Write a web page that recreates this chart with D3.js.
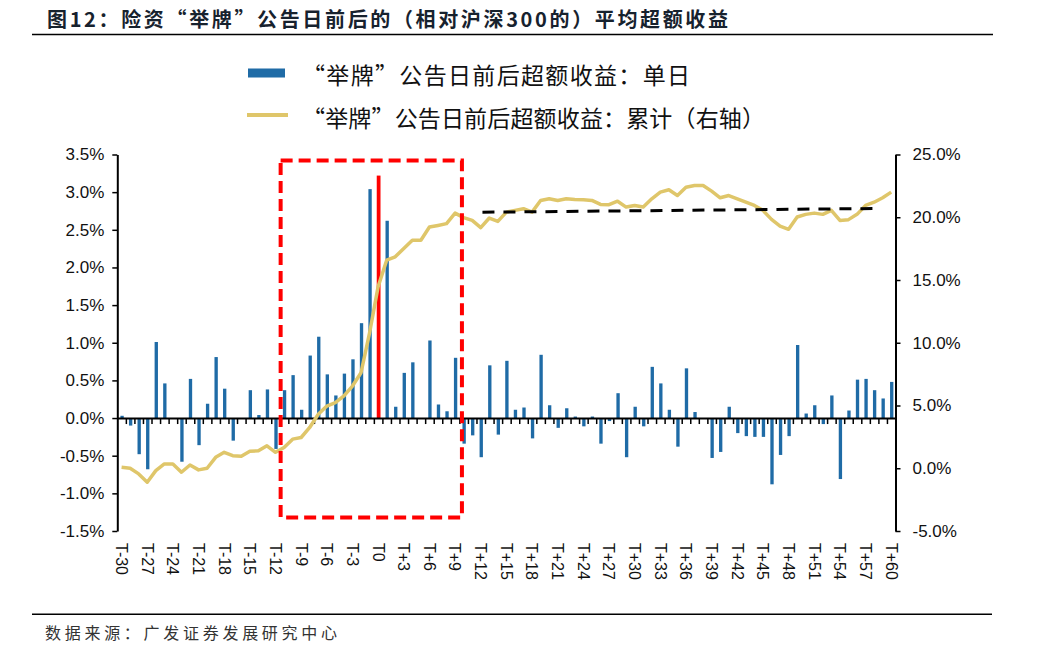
<!DOCTYPE html>
<html>
<head>
<meta charset="utf-8">
<script src="https://cdn.jsdelivr.net/npm/d3@7"></script>
<style>
  body { margin: 0; background: #fff; }
  text { font-family: "Liberation Sans", Arial, sans-serif; }
  .cjk { font-family: "Noto Sans CJK SC", sans-serif; }
</style>
</head>
<body>
<script>
// categories: T-30 ... T+60
var days = d3.range(-30, 61).map(function(d) {
  return d === 0 ? "T0" : (d < 0 ? "T" + d : "T+" + d);
});

// daily excess return (%), left axis
var daily = [
  0.03, -0.10, -0.48, -0.68, 1.01, 0.46, 0.00, -0.58, 0.52, -0.36,
  0.19, 0.81, 0.39, -0.30, 0.00, 0.37, 0.04, 0.38, -0.41, 0.37,
  0.57, 0.11, 0.83, 1.08, 0.58, 0.30, 0.59, 0.78, 1.26, 3.04,
  3.22, 2.62, 0.15, 0.60, 0.74, 0.00, 1.03, 0.18, 0.09, 0.80,
  -0.34, -0.23, -0.52, 0.70, -0.22, 0.76, 0.11, 0.14, -0.27, 0.84,
  0.17, -0.13, 0.13, 0.02, -0.11, 0.02, -0.34, -0.04, 0.33, -0.52,
  0.15, -0.11, 0.68, 0.46, 0.11, -0.38, 0.66, 0.08, 0.00, -0.53,
  -0.45, 0.15, -0.20, -0.24, -0.25, -0.25, -0.88, -0.49, -0.24, 0.97,
  0.06, 0.17, -0.08, 0.30, -0.81, 0.10, 0.51, 0.52, 0.37, 0.26,
  0.48
];

// cumulative excess return (%), right axis
var cumulative = [
  0.08, 0.00, -0.45, -1.11, -0.19, 0.34, 0.34, -0.32, 0.26, -0.13,
  0.00, 0.87, 1.27, 1.00, 0.95, 1.35, 1.39, 1.79, 1.27, 1.66,
  2.32, 2.45, 3.25, 4.30, 4.96, 5.23, 5.76, 6.55, 7.61, 10.78,
  14.47, 16.58, 16.85, 17.51, 18.17, 18.17, 19.22, 19.35, 19.49, 20.33,
  19.97, 19.75, 19.17, 19.94, 19.67, 20.41, 20.55, 20.68, 20.41, 21.34,
  21.47, 21.34, 21.47, 21.42, 21.39, 21.34, 21.02, 21.00, 21.28, 20.81,
  20.94, 20.81, 21.47, 22.00, 22.19, 21.73, 22.39, 22.53, 22.53, 22.08,
  21.55, 21.73, 21.47, 21.20, 20.94, 20.55, 19.83, 19.30, 19.04, 20.02,
  20.23, 20.33, 20.23, 20.55, 19.75, 19.81, 20.23, 20.94, 21.20, 21.55,
  22.00
];

var leftTicks = [3.5, 3.0, 2.5, 2.0, 1.5, 1.0, 0.5, 0.0, -0.5, -1.0, -1.5];
var rightTicks = [25, 20, 15, 10, 5, 0, -5];
var labelDays = days.filter(function(d, i) { return i % 3 === 0; });

var highlightDay = "T0";
var boxDays = ["T-11", "T+10"];
var boxValues = [3.42, -1.32];
var trendDays = ["T+12", "T+58"];
var trendValues = [20.4, 20.7];

var legendNames = ["“举牌”公告日前后超额收益：单日", "“举牌”公告日前后超额收益：累计（右轴）"];

var blue = "#1f6ba6", gold = "#dfc66a";

var svg = d3.select("body").append("svg")
    .attr("width", 1044)
    .attr("height", 647);

var x = d3.scaleBand().domain(days).range([117.3, 895.5]).padding(0);
var xi = d3.scaleLinear().domain([0, days.length]).range([117.3, 895.5]);
var yL = d3.scaleLinear().domain([-1.5, 3.5]).range([531, 154.5]);
var yR = d3.scaleLinear().domain([-5, 25]).range([531, 154.5]);
var bw = x.bandwidth();

// title
svg.append("text")
    .attr("class", "cjk")
    .attr("x", 47).attr("y", 18)
    .attr("dominant-baseline", "central")
    .attr("textLength", 681)
    .attr("lengthAdjust", "spacing")
    .style("font-size", "20px").style("font-weight", "bold")
    .style("fill", "#17222e")
    .text("图12：险资“举牌”公告日前后的（相对沪深300的）平均超额收益");

svg.append("line")
    .attr("x1", 32).attr("x2", 993).attr("y1", 34.5).attr("y2", 34.5)
    .style("stroke", "#000").style("stroke-width", 1.5);

// legend
svg.append("rect")
    .attr("x", 248).attr("y", 68.5).attr("width", 37).attr("height", 9)
    .style("fill", blue);
svg.append("line")
    .attr("x1", 247).attr("x2", 288).attr("y1", 115).attr("y2", 115)
    .style("stroke", gold).style("stroke-width", 4);
svg.selectAll(".legtext").data(legendNames).enter().append("text")
    .attr("class", "cjk legtext")
    .attr("x", 302)
    .attr("y", function(d, i) { return i === 0 ? 74 : 117; })
    .attr("dominant-baseline", "central")
    .attr("textLength", function(d, i) { return i === 0 ? 388 : 463; })
    .attr("lengthAdjust", "spacing")
    .style("font-size", "23px")
    .style("fill", "#111")
    .text(function(d) { return d; });

// bars
svg.append("g").selectAll("rect").data(daily).enter().append("rect")
    .attr("x", function(d, i) {
      var w = days[i] === highlightDay ? bw * 0.44 : bw * 0.39;
      return x(days[i]) + (bw - w) / 2 + 0.5;
    })
    .attr("width", function(d, i) { return days[i] === highlightDay ? bw * 0.44 : bw * 0.39; })
    .attr("y", function(d) { return yL(Math.max(0, d)); })
    .attr("height", function(d) { return Math.abs(yL(d) - yL(0)); })
    .style("fill", function(d, i) { return days[i] === highlightDay ? "#ff0000" : blue; });

// category axis on zero line
var catAxis = svg.append("g")
    .attr("transform", "translate(0," + yL(0) + ")")
    .call(d3.axisBottom(xi).tickValues(d3.range(1, days.length)).tickSize(6).tickSizeOuter(0).tickFormat(""));
catAxis.select(".domain").style("stroke-width", 2);
catAxis.selectAll(".tick line").style("stroke-width", 1.5);

// category labels at the bottom
var labAxis = svg.append("g")
    .attr("transform", "translate(0,543)")
    .call(d3.axisBottom(x).tickValues(labelDays).tickSize(0));
labAxis.select(".domain").remove();
labAxis.selectAll("text")
    .attr("x", 0).attr("y", 0).attr("dy", "0.35em")
    .attr("transform", "rotate(90)")
    .style("text-anchor", "start")
    .style("font-size", "16px")
    .style("font-family", "'Liberation Sans', Arial, sans-serif")
    .style("fill", "#111");

// left axis
var leftAxis = svg.append("g")
    .attr("transform", "translate(117.3,0)")
    .call(d3.axisLeft(yL).tickValues(leftTicks).tickSize(5).tickSizeOuter(0).tickPadding(8)
      .tickFormat(function(d) { return d.toFixed(1) + "%"; }));
leftAxis.select(".domain").style("stroke-width", 2);
leftAxis.selectAll(".tick line").style("stroke-width", 1.5);
leftAxis.selectAll("text")
    .style("font-size", "17px")
    .style("font-family", "'Liberation Sans', Arial, sans-serif")
    .style("fill", "#111");

// right axis
var rightAxis = svg.append("g")
    .attr("transform", "translate(895.5,0)")
    .call(d3.axisRight(yR).tickValues(rightTicks).tickSize(5).tickSizeOuter(0).tickPadding(12)
      .tickFormat(function(d) { return d.toFixed(1) + "%"; }));
rightAxis.select(".domain").style("stroke-width", 2);
rightAxis.selectAll(".tick line").style("stroke-width", 1.5);
rightAxis.selectAll("text")
    .style("font-size", "17px")
    .style("font-family", "'Liberation Sans', Arial, sans-serif")
    .style("fill", "#111");

// cumulative line
var line = d3.line()
    .x(function(d, i) { return x(days[i]) + bw / 2; })
    .y(function(d) { return yR(d); });

svg.append("path")
    .datum(cumulative)
    .style("fill", "none")
    .style("stroke", gold)
    .style("stroke-width", 3.5)
    .style("stroke-linejoin", "round")
    .attr("d", line);

// flat trend (dashed black)
svg.append("line")
    .attr("x1", x(trendDays[0]) + bw * 0.7)
    .attr("x2", x(trendDays[1]) + bw * 0.95)
    .attr("y1", yR(trendValues[0]))
    .attr("y2", yR(trendValues[1]))
    .style("stroke", "#000")
    .style("stroke-width", 3)
    .style("stroke-dasharray", "12,9");

// red dashed window
svg.append("rect")
    .attr("x", x(boxDays[0]) + bw * 0.1)
    .attr("y", yL(boxValues[0]))
    .attr("width", x(boxDays[1]) + bw * 0.3 - x(boxDays[0]) - bw * 0.1)
    .attr("height", yL(boxValues[1]) - yL(boxValues[0]))
    .style("fill", "none")
    .style("stroke", "#ff0000")
    .style("stroke-width", 4)
    .style("stroke-dasharray", "12,6");

// source
svg.append("line")
    .attr("x1", 32).attr("x2", 992).attr("y1", 614.3).attr("y2", 614.3)
    .style("stroke", "#000").style("stroke-width", 1.5);
svg.append("text")
    .attr("class", "cjk")
    .attr("x", 45).attr("y", 632)
    .attr("dominant-baseline", "central")
    .attr("textLength", 292)
    .attr("lengthAdjust", "spacing")
    .style("font-size", "16px")
    .style("fill", "#333")
    .text("数据来源：广发证券发展研究中心");
</script>
</body>
</html>
